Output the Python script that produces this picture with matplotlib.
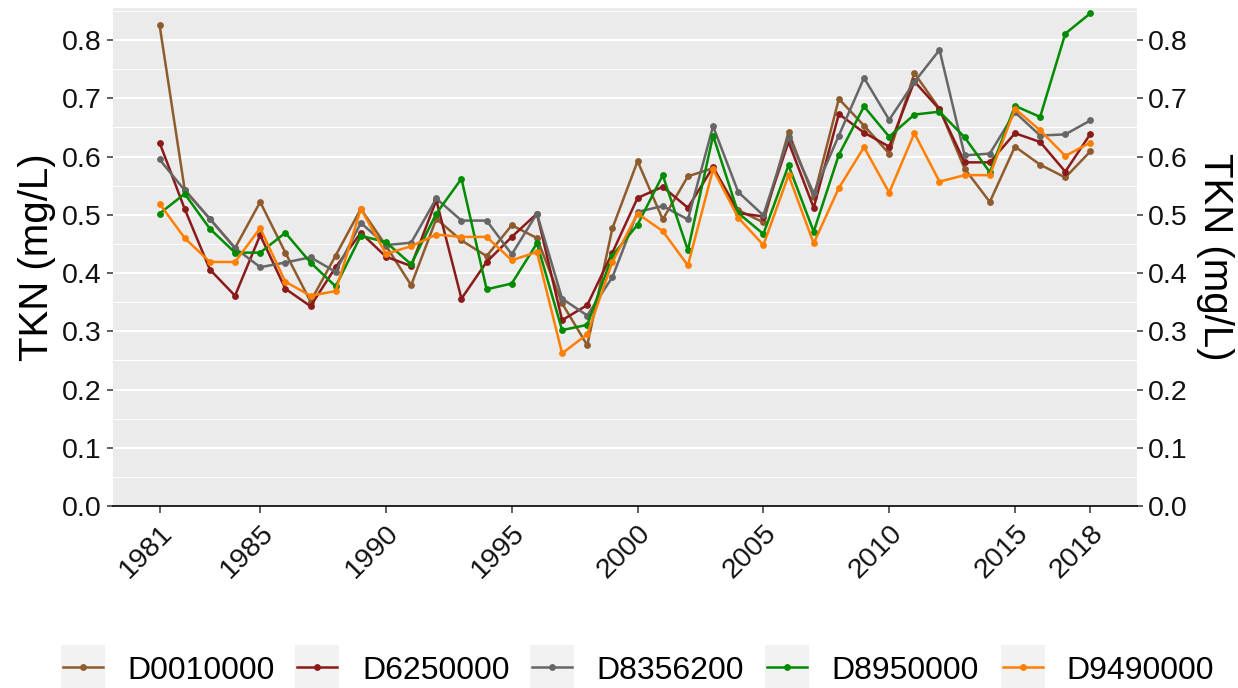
import matplotlib
matplotlib.use('Agg')
import matplotlib.pyplot as plt
from matplotlib.patches import Rectangle
from matplotlib.lines import Line2D

plt.rcParams['font.family'] = ['Liberation Sans', 'DejaVu Sans']

years = list(range(1981, 2019))
stations = ['D0010000', 'D6250000', 'D8356200', 'D8950000', 'D9490000']

d0010000 = [0.826, 0.543, 0.493, 0.443, 0.522, 0.435, 0.351, 0.430, 0.510, 0.447,
            0.379, 0.493, 0.456, 0.429, 0.482, 0.460, 0.348, 0.276, 0.477, 0.592,
            0.492, 0.566, 0.580, 0.508, 0.487, 0.642, 0.530, 0.699, 0.653, 0.605,
            0.743, 0.682, 0.579, 0.522, 0.617, 0.586, 0.564, 0.609]
d6250000 = [0.624, 0.510, 0.406, 0.361, 0.465, 0.373, 0.343, 0.410, 0.469, 0.428,
            0.412, 0.525, 0.356, 0.419, 0.462, 0.502, 0.319, 0.345, 0.435, 0.529,
            0.548, 0.512, 0.582, 0.503, 0.497, 0.625, 0.512, 0.673, 0.641, 0.617,
            0.729, 0.681, 0.590, 0.590, 0.640, 0.625, 0.574, 0.639]
d8356200 = [0.595, 0.542, 0.493, 0.443, 0.410, 0.418, 0.427, 0.402, 0.486, 0.448,
            0.452, 0.528, 0.490, 0.490, 0.432, 0.502, 0.356, 0.327, 0.393, 0.505,
            0.515, 0.492, 0.652, 0.539, 0.499, 0.633, 0.537, 0.636, 0.735, 0.663,
            0.728, 0.783, 0.602, 0.605, 0.676, 0.636, 0.638, 0.662]
d8950000 = [0.502, 0.536, 0.476, 0.435, 0.435, 0.469, 0.418, 0.377, 0.464, 0.453,
            0.415, 0.502, 0.562, 0.372, 0.382, 0.451, 0.302, 0.311, 0.430, 0.483,
            0.568, 0.439, 0.636, 0.503, 0.467, 0.585, 0.471, 0.603, 0.686, 0.634,
            0.672, 0.677, 0.633, 0.573, 0.687, 0.668, 0.811, 0.846]
d9490000 = [0.519, 0.460, 0.419, 0.419, 0.477, 0.385, 0.361, 0.369, 0.510, 0.433,
            0.446, 0.466, 0.462, 0.462, 0.422, 0.436, 0.262, 0.295, 0.419, 0.502,
            0.472, 0.413, 0.578, 0.495, 0.448, 0.568, 0.451, 0.546, 0.616, 0.538,
            0.640, 0.557, 0.568, 0.568, 0.682, 0.645, 0.601, 0.624]

series = [d0010000, d6250000, d8356200, d8950000, d9490000]
colors = ['#8E5B2C', '#8B1A1A', '#666666', '#008B00', '#FF7F00']

xticks = [1981, 1985, 1990, 1995, 2000, 2005, 2010, 2015, 2018]
yticks = [0.0, 0.1, 0.2, 0.3, 0.4, 0.5, 0.6, 0.7, 0.8]
yminor = [0.05, 0.15, 0.25, 0.35, 0.45, 0.55, 0.65, 0.75, 0.85]
ylabel = 'TKN (mg/L)'

W, H = 1238, 688
fig = plt.figure(figsize=(W / 100, H / 100), dpi=100)
pl, pr, pt, pb = 113, 1137, 8, 506
ax = fig.add_axes([pl / W, 1 - pb / H, (pr - pl) / W, (pb - pt) / H])
ax.set_facecolor('#EBEBEB')

for vals, c in zip(series, colors):
    ax.plot(years, vals, color=c, lw=1.8, marker='o', ms=3.9, zorder=3)

ax.set_xlim(1979.15, 2019.85)
ax.set_ylim(0, 0.855)
ax.set_yticks(yticks)
ax.set_yticklabels([f'{v:.1f}' for v in yticks])
ax.set_yticks(yminor, minor=True)
ax.set_xticks(xticks)
ax.set_xticklabels([str(x) for x in xticks], rotation=45, ha='right',
                   va='top', rotation_mode='anchor')
ax.set_axisbelow(True)
ax.yaxis.grid(True, which='major', color='white', lw=1.5)
ax.yaxis.grid(True, which='minor', color='white', lw=0.75)
ax.xaxis.grid(False)

for s in ['left', 'right', 'top']:
    ax.spines[s].set_visible(False)
ax.spines['bottom'].set_color('black')
ax.spines['bottom'].set_linewidth(1.2)

ax.tick_params(axis='y', which='major', length=4, width=1.1, color='#333333',
               labelsize=20.5, labelcolor='#111111', pad=4,
               left=True, right=True, labelleft=True, labelright=True)
ax.tick_params(axis='y', which='minor', length=0, left=False, right=False)
ax.tick_params(axis='x', which='major', length=5, width=1.1, color='#333333',
               labelsize=20.5, labelcolor='#111111', pad=5)

ymid = 1 - ((pt + pb) / 2) / H
fig.text(37 / W, ymid, ylabel, rotation=90, ha='center', va='center', fontsize=29)
fig.text(1215 / W, ymid, ylabel, rotation=-90, ha='center', va='center', fontsize=29)

# legend (manual, ggplot style)
box_x = [61, 295, 530, 765, 1001]
text_x = [127, 362, 596, 831, 1066]
ycen = 667
for bx, tx, name, c in zip(box_x, text_x, stations, colors):
    fig.add_artist(Rectangle((bx / W, 1 - (ycen + 22) / H), 44 / W, 44 / H,
                             transform=fig.transFigure, facecolor='#F2F2F2',
                             edgecolor='none'))
    fig.add_artist(Line2D([(bx + 2) / W, (bx + 42) / W], [1 - ycen / H, 1 - ycen / H],
                          transform=fig.transFigure, color=c, lw=1.8))
    fig.add_artist(Line2D([(bx + 22) / W], [1 - ycen / H], transform=fig.transFigure,
                          color=c, marker='o', ms=3.9, lw=0))
    fig.text(tx / W, 1 - 679 / H, name, ha='left', va='baseline', fontsize=23,
             color='black')

fig.savefig('out.png', dpi=100)
